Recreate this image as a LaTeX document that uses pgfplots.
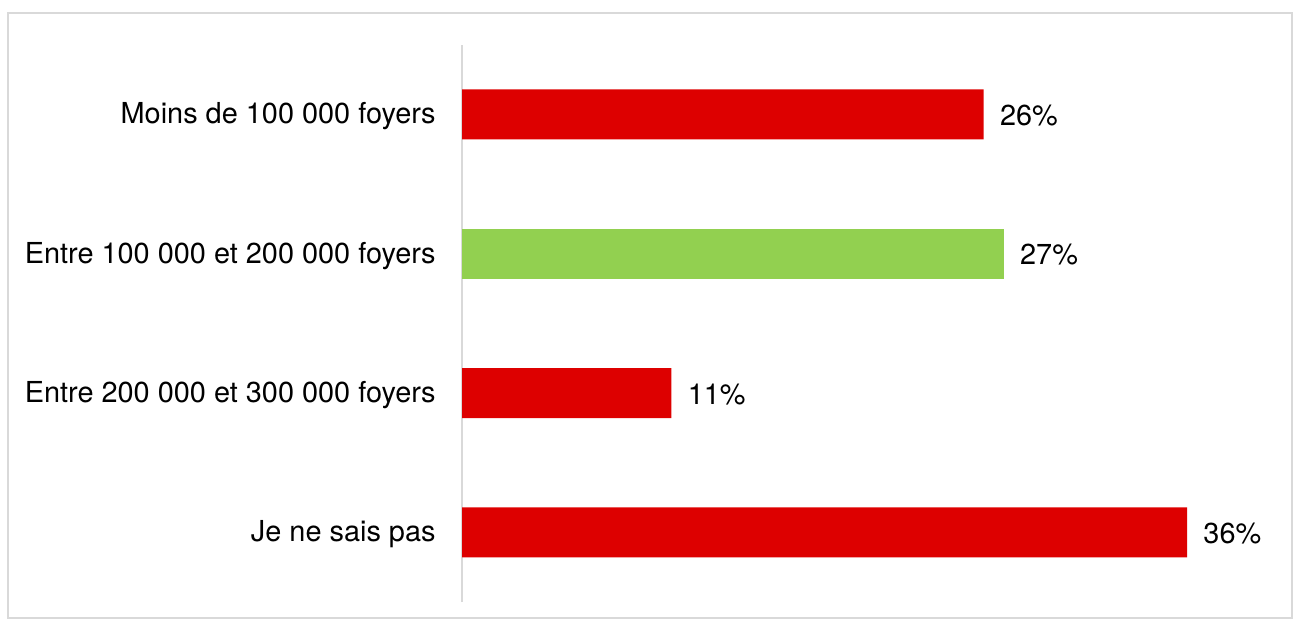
\documentclass[border=0pt]{standalone}
\usepackage{fontspec}
\setmainfont{TeX Gyre Heros}
\usepackage{pgfplots}
\pgfplotsset{compat=1.18}
\definecolor{barred}{RGB}{221,0,0}
\definecolor{bargreen}{RGB}{146,208,80}
\definecolor{frame}{RGB}{217,217,217}
\begin{document}
\begin{tikzpicture}
\useasboundingbox (0,0) rectangle (649.5bp,311.5bp);
\draw[frame, line width=0.8bp] (4bp,2.5bp) rectangle (646bp,305bp);
\begin{axis}[
    at={(231bp,10.5bp)}, anchor=south west,
    scale only axis,
    width=402.8bp, height=278.6bp,
    xbar, bar width=25bp, bar shift=0pt,
    xmin=0, xmax=40,
    ymin=-0.5, ymax=3.5,
    axis x line=none,
    axis y line*=left,
    y axis line style={frame, line width=0.8bp, -},
    major tick length=0pt,
    ytick={0,1,2,3},
    yticklabels={Je ne sais pas, Entre 200 000 et 300 000 foyers, Entre 100 000 et 200 000 foyers, Moins de 100 000 foyers},
    yticklabel style={font=\fontsize{14.5}{17}\selectfont, inner sep=0pt, anchor=east, xshift=-13bp, yshift=-1bp},
    point meta=explicit symbolic,
    nodes near coords,
    nodes near coords style={font=\fontsize{14.5}{17}\selectfont, anchor=west, inner sep=0pt, xshift=8bp, yshift=-0.5bp},
    clip=false,
]
\addplot[fill=barred, draw=none] coordinates {
(25.9,3) [26\%]
(10.4,1) [11\%]
(36.0,0) [36\%]
};
\addplot[fill=bargreen, draw=none] coordinates {
(26.9,2) [27\%]
};
\end{axis}
\end{tikzpicture}
\end{document}
